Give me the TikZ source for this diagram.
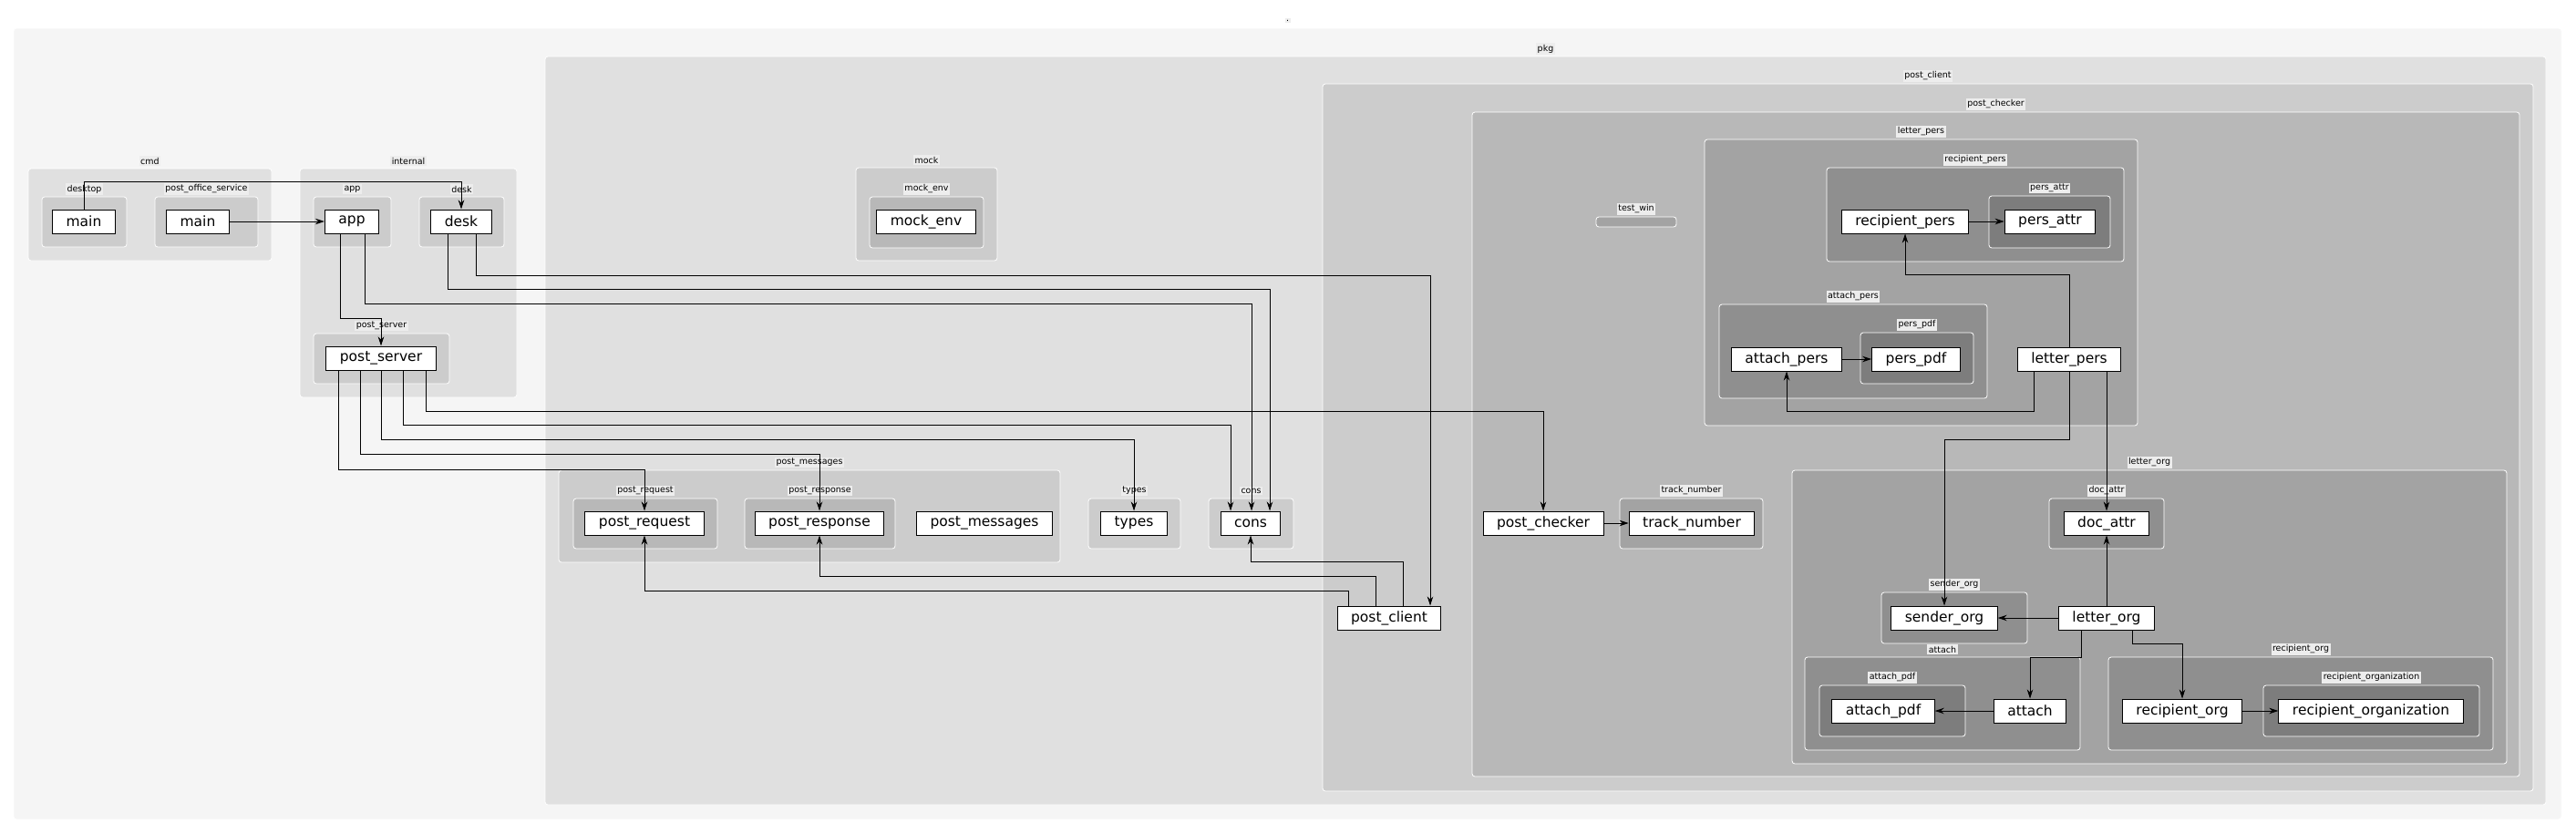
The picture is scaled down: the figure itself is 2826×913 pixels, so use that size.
\documentclass[tikz,border=0pt]{standalone}
\usepackage{fontspec}
\setmainfont{DejaVu Sans}
\usetikzlibrary{arrows.meta}

\begin{document}
\begin{tikzpicture}[x=1pt,y=-1pt,
	mod/.style={draw,line width=1pt,fill=white,minimum height=26pt,inner xsep=15pt,inner ysep=0pt,font=\fontsize{15.5}{18}\selectfont},
	grplabel/.style={fill=black!7,inner sep=1.5pt,font=\fontsize{9.5}{11}\selectfont},
	dep/.style={line width=0.9pt,-{Stealth[length=10pt,width=6.5pt]}}]
	\useasboundingbox[fill=white] (0,0) rectangle (2826,913);
	
	\def\grp#1#2#3#4#5#6#7{%
		\filldraw[draw=white,line width=0.8pt,fill=#5,rounded corners=3pt] (#1,#2) rectangle (#3,#4);
		\node[grplabel] (#6) at ({(#1+#3)/2},{#2-8.5}) {#7};}
	
	% clusters
	\grp{15}{31}{2810}{899}{black!4}{l-root}{.}
	\grp{31}{185}{298}{286}{black!12}{l-cmd}{cmd}
	\grp{46}{216}{139}{271}{black!20}{l-desktop}{desktop}
	\grp{170}{216}{283}{271}{black!20}{l-pos}{post\_office\_service}
	\grp{329}{185}{567}{436}{black!12}{l-internal}{internal}
	\grp{344}{216}{429}{271}{black!20}{l-app}{app}
	\grp{460}{216}{553}{271}{black!20}{l-desk}{desk}
	\grp{344}{366}{493}{421}{black!20}{l-postserver}{post\_server}
	\grp{598}{62}{2793}{883}{black!12}{l-pkg}{pkg}
	\grp{939}{184}{1094}{286}{black!20}{l-mock}{mock}
	\grp{954}{216}{1079}{272}{black!28}{l-mockenv}{mock\_env}
	\grp{613}{516}{1163}{617}{black!20}{l-postmessages}{post\_messages}
	\grp{629}{547}{787}{602}{black!28}{l-postrequest}{post\_request}
	\grp{817}{547}{982}{602}{black!28}{l-postresponse}{post\_response}
	\grp{1194}{547}{1295}{602}{black!20}{l-types}{types}
	\grp{1326}{547}{1419}{602}{black!20}{l-cons}{cons}
	\grp{1451}{92}{2779}{868}{black!20}{l-postclient}{post\_client}
	\grp{1615}{123}{2764}{852}{black!28}{l-postchecker}{post\_checker}
	\grp{1751}{238}{1839}{249}{black!36}{l-testwin}{test\_win}
	\grp{1870}{153}{2345}{467}{black!36}{l-letterpers}{letter\_pers}
	\grp{2004}{184}{2330}{287}{black!44}{l-recipientpers}{recipient\_pers}
	\grp{2182}{215}{2315}{272}{black!51}{l-persattr}{pers\_attr}
	\grp{1886}{334}{2180}{437}{black!44}{l-attachpers}{attach\_pers}
	\grp{2041}{365}{2165}{421}{black!51}{l-perspdf}{pers\_pdf}
	\grp{1777}{547}{1934}{602}{black!36}{l-tracknumber}{track\_number}
	\grp{1966}{516}{2750}{838}{black!36}{l-letterorg}{letter\_org}
	\grp{2248}{547}{2374}{602}{black!44}{l-docattr}{doc\_attr}
	\grp{2064}{650}{2224}{706}{black!44}{l-senderorg}{sender\_org}
	\grp{1980}{721}{2282}{823}{black!44}{l-attach}{attach}
	\grp{1996}{752}{2156}{808}{black!51}{l-attachpdf}{attach\_pdf}
	\grp{2313}{721}{2735}{823}{black!44}{l-recipientorg}{recipient\_org}
	\grp{2483}{752}{2720}{808}{black!51}{l-recipientorganization}{recipient\_organization}
	
	% packages
	\node[mod] (maindesk) at (92,243) {main};
	\node[mod] (mainpos) at (217,243) {main};
	\node[mod] (app) at (386,243) {app};
	\node[mod] (desk) at (506,243) {desk};
	\node[mod] (postserver) at (418,393) {post\_server};
	\node[mod] (mockenv) at (1016,243) {mock\_env};
	\node[mod] (postrequest) at (707,574) {post\_request};
	\node[mod] (postresponse) at (899,574) {post\_response};
	\node[mod] (postmessages) at (1080,574) {post\_messages};
	\node[mod] (types) at (1244,574) {types};
	\node[mod] (cons) at (1372,574) {cons};
	\node[mod] (postclient) at (1524,678) {post\_client};
	\node[mod] (postchecker) at (1693,574) {post\_checker};
	\node[mod] (tracknumber) at (1856,574) {track\_number};
	\node[mod] (recipientpers) at (2090,243) {recipient\_pers};
	\node[mod] (persattr) at (2249,243) {pers\_attr};
	\node[mod] (attachpers) at (1960,394) {attach\_pers};
	\node[mod] (perspdf) at (2102,394) {pers\_pdf};
	\node[mod] (letterpers) at (2270,394) {letter\_pers};
	\node[mod] (docattr) at (2311,574) {doc\_attr};
	\node[mod] (senderorg) at (2133,678) {sender\_org};
	\node[mod] (letterorg) at (2311,678) {letter\_org};
	\node[mod] (attachpdf) at (2066,780) {attach\_pdf};
	\node[mod] (attach) at (2227,780) {attach};
	\node[mod] (recipientorg) at (2394,780) {recipient\_org};
	\node[mod] (recipientorganization) at (2601,780) {recipient\_organization};
	
	% imports
	\draw[dep] (maindesk.north) -- ++(0,-30) -| (desk.north);
	\draw[dep] (mainpos) -- (app);
	\draw[dep] ([xshift=-13pt]app.south) -- ++(0,93) -| (postserver.north);
	\draw[dep] ([xshift=14pt]app.south) -- ++(0,77) -| ([xshift=1pt]cons.north);
	\draw[dep] ([xshift=-15pt]desk.south) -- ++(0,61) -| ([xshift=21pt]cons.north);
	\draw[dep] ([xshift=16pt]desk.south) -- ++(0,46) -| ([xshift=45pt]postclient.north);
	\draw[dep] ([xshift=-47pt]postserver.south) -- ++(0,109) -| (postrequest.north);
	\draw[dep] ([xshift=-23pt]postserver.south) -- ++(0,92) -| (postresponse.north);
	\draw[dep] (postserver.south) -- ++(0,76) -| (types.north);
	\draw[dep] ([xshift=24pt]postserver.south) -- ++(0,60) -| ([xshift=-22pt]cons.north);
	\draw[dep] ([xshift=49pt]postserver.south) -- ++(0,45) -| (postchecker.north);
	\draw[dep] ([xshift=15pt]postclient.north) -- ++(0,-48) -| (cons.south);
	\draw[dep] ([xshift=-15pt]postclient.north) -- ++(0,-32) -| (postresponse.south);
	\draw[dep] ([xshift=-45pt]postclient.north) -- ++(0,-16) -| (postrequest.south);
	\draw[dep] (postchecker) -- (tracknumber);
	\draw[dep] (recipientpers) -- (persattr);
	\draw[dep] (attachpers) -- (perspdf);
	\draw[dep] (letterpers.north) -- ++(0,-79) -| (recipientpers.south);
	\draw[dep] ([xshift=-39pt]letterpers.south) -- ++(0,44) -| (attachpers.south);
	\draw[dep] (letterpers.south) -- ++(0,75) -| (senderorg.north);
	\draw[dep] ([xshift=41pt]letterpers.south) -- (docattr.north);
	\draw[dep] (letterorg) -- (senderorg);
	\draw[dep] (letterorg) -- (docattr);
	\draw[dep] ([xshift=-28pt]letterorg.south) -- ++(0,30) -| (attach.north);
	\draw[dep] ([xshift=28pt]letterorg.south) -- ++(0,15) -| (recipientorg.north);
	\draw[dep] (attach) -- (attachpdf);
	\draw[dep] (recipientorg) -- (recipientorganization);
\end{tikzpicture}
\end{document}
